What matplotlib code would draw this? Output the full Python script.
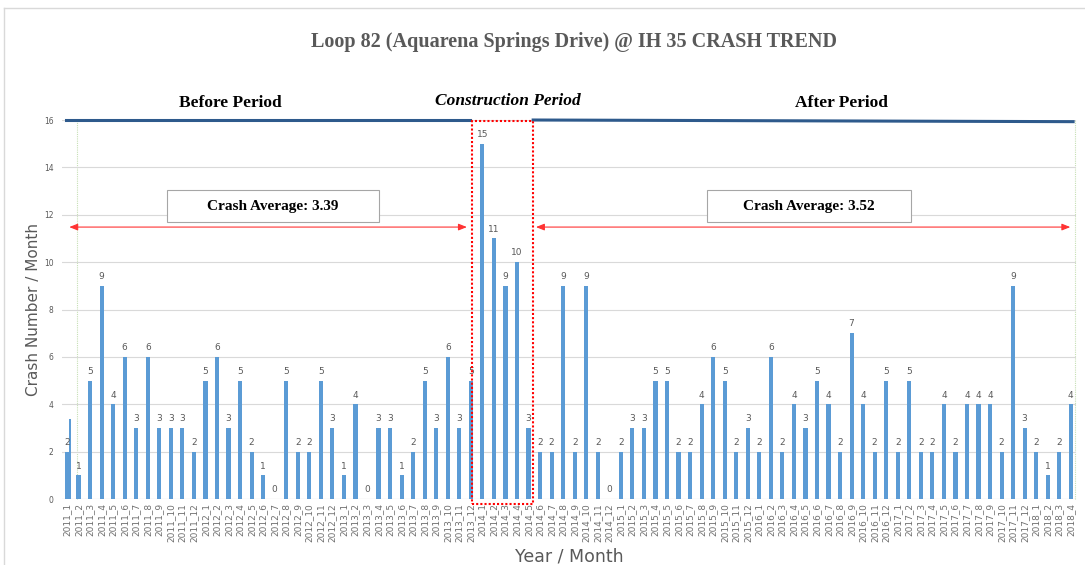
import matplotlib.pyplot as plt
from matplotlib.patches import Rectangle
import numpy as np

years = [2011, 2012, 2013, 2014, 2015, 2016, 2017, 2018]
months_per_year = [12, 12, 12, 12, 12, 12, 12, 4]
labels = [f"{y}_{m}" for y, n in zip(years, months_per_year) for m in range(1, n + 1)]

crashes = [
    2, 1, 5, 9, 4, 6, 3, 6, 3, 3, 3, 2,      # 2011
    5, 6, 3, 5, 2, 1, 0, 5, 2, 2, 5, 3,      # 2012
    1, 4, 0, 3, 3, 1, 2, 5, 3, 6, 3, 5,      # 2013
    15, 11, 9, 10, 3, 2, 2, 9, 2, 9, 2, 0,   # 2014
    2, 3, 3, 5, 5, 2, 2, 4, 6, 5, 2, 3,      # 2015
    2, 6, 2, 4, 3, 5, 4, 2, 7, 4, 2, 5,      # 2016
    2, 5, 2, 2, 4, 2, 4, 4, 4, 2, 9, 3,      # 2017
    2, 1, 2, 4,                              # 2018
]
avg_before = 3.39
avg_after = 3.52

gray = "#595959"
blue = "#5b9bd5"

fig = plt.figure(figsize=(10.85, 5.65), dpi=100)
ax = fig.add_axes([0.057, 0.1168, 0.9347, 0.6708])

x = np.arange(len(crashes))
ax.bar(x, crashes, width=0.36, color=blue, zorder=3)
# stray thin bar next to the first month in the original chart
ax.bar([0.25], [avg_before], width=0.18, color=blue, zorder=3)

for xi, v in zip(x, crashes):
    ax.text(xi, v + 0.2, str(v), ha="center", va="bottom", fontsize=6.5, color=gray, zorder=4)

ax.set_xlim(-0.45, len(crashes) - 0.55)
ax.set_ylim(0, 16)
ax.set_yticks(range(0, 17, 2))
ax.set_xticks(x)
ax.set_xticklabels(labels, rotation=90, fontsize=6.5, color="#6f6f6f")
ax.tick_params(axis="y", labelsize=5.5, labelcolor=gray, length=0, pad=6)
ax.tick_params(axis="x", length=0, pad=3)
ax.grid(axis="y", color="#d9d9d9", lw=0.8, zorder=0)
for s in ax.spines.values():
    s.set_visible(False)
ax.axhline(0, color="#d9d9d9", lw=0.8, zorder=1)

ax.set_ylabel("Crash Number / Month", fontsize=11, color=gray, labelpad=2)
ax.set_xlabel("Year / Month", fontsize=12.5, color=gray, labelpad=4)

# period top lines
ax.plot([-0.05, 34.9], [16, 16], color="#2e5a8c", lw=2.2, clip_on=False, zorder=5)
ax.plot([40.4, 87.2], [16, 15.93], color="#2e5a8c", lw=2.2, clip_on=False, zorder=5)

# construction box
ax.add_patch(Rectangle((35.1, -0.2), 5.3, 16.15, fill=False, ec="red", lw=1.5,
                       ls=(0, (1, 1)), clip_on=False, zorder=6))

# faint green verticals
for gx in [0.85, 87.35]:
    ax.plot([gx, gx], [0, 16], color="#c6dfb4", lw=0.8, ls=(0, (1, 1)), zorder=1, clip_on=False)

# average arrows
arrow_kw = dict(arrowstyle="<|-|>,head_length=0.5,head_width=0.2", color="#ff3333", lw=0.8)
ax.annotate("", xy=(-0.05, 11.48), xytext=(34.9, 11.48), arrowprops=arrow_kw, annotation_clip=False)
ax.annotate("", xy=(40.4, 11.48), xytext=(87.2, 11.48), arrowprops=arrow_kw, annotation_clip=False)

# average boxes
for x0, x1, val in [(8.67, 27.04, avg_before), (55.46, 73.14, avg_after)]:
    ax.add_patch(Rectangle((x0, 11.69), x1 - x0, 1.35, fc="white", ec="#a6a6a6", lw=0.8, zorder=7))
    ax.text((x0 + x1) / 2, 12.36, f"Crash Average: {val:.2f}", ha="center", va="center",
            fontsize=11, fontweight="bold", family="Liberation Serif", zorder=8)

# period labels
fig.text(0.212, 0.818, "Before Period", ha="center", va="center", fontsize=12.5,
         fontweight="bold", family="Liberation Serif")
fig.text(0.468, 0.822, "Construction Period", ha="center", va="center", fontsize=12.5,
         fontweight="bold", style="italic", family="Liberation Serif")
fig.text(0.776, 0.818, "After Period", ha="center", va="center", fontsize=12.5,
         fontweight="bold", family="Liberation Serif")

fig.text(0.529, 0.926, "Loop 82 (Aquarena Springs Drive) @ IH 35 CRASH TREND", ha="center",
         va="center", fontsize=14.5, fontweight="bold", family="Liberation Serif", color=gray)

# outer frame
fig.add_artist(plt.Line2D([4 / 1085, 1], [1 - 8 / 565, 1 - 8 / 565], color="#d9d9d9", lw=1))
fig.add_artist(plt.Line2D([4 / 1085, 4 / 1085], [0, 1 - 8 / 565], color="#d9d9d9", lw=1))

fig.savefig("out.png", dpi=100)
